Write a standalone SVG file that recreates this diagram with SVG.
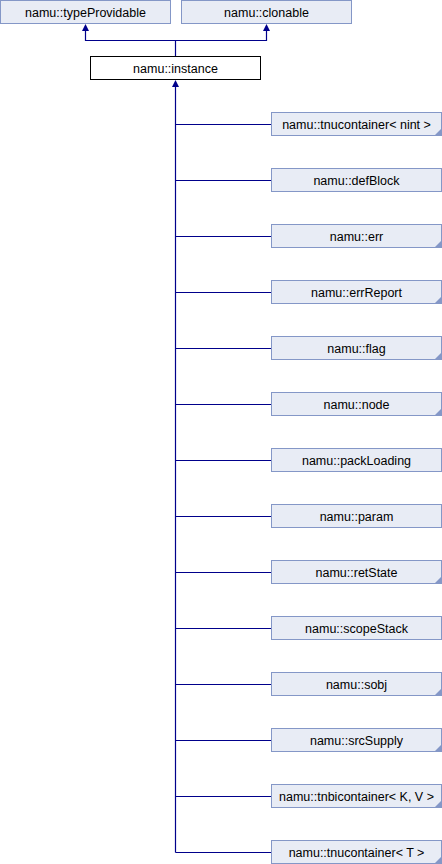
<svg xmlns="http://www.w3.org/2000/svg" width="442" height="864" viewBox="0 0 442 864">
<style>
.b{fill:#E8ECF5;stroke:#8497C7;stroke-width:1}
.w{fill:#FFFFFF;stroke:#000000;stroke-width:1}
.t{font-family:"Liberation Sans",Arial,sans-serif;font-size:12.5px;fill:#000000;text-anchor:middle}
.c{fill:none;stroke:#00008B;stroke-width:1.2}
.a{fill:#00008B}
.k{fill:#8497C7}
</style>
<defs>
<polygon id="tri" class="k" points="0,0 0,-6 -6,0"/>
</defs>
<rect width="442" height="864" fill="#FFFFFF"/>
<g id="connectors">
<path class="c" d="M85.5,26 V40.5 H266.5 V26 M175.5,40.5 V56"/>
<polygon class="a" points="85.5,24 82,31 89,31"/>
<polygon class="a" points="266.5,24 263,31 270,31"/>
<path class="c" d="M175.5,82 V852.5"/>
<polygon class="a" points="175.5,80 172,87 179,87"/>
<path class="c" d="M175.5,124.5 H271 M175.5,180.5 H271 M175.5,236.5 H271 M175.5,292.5 H271 M175.5,348.5 H271 M175.5,404.5 H271 M175.5,460.5 H271 M175.5,516.5 H271 M175.5,572.5 H271 M175.5,628.5 H271 M175.5,684.5 H271 M175.5,740.5 H271 M175.5,796.5 H271 M175.5,852.5 H271"/>
</g>
<g id="typeProvidable"><rect class="b" x="0.5" y="0.5" width="170" height="23"/><text class="t" x="85.5" y="16.5">namu::typeProvidable</text></g>
<g id="clonable"><rect class="b" x="181.5" y="0.5" width="170" height="23"/><text class="t" x="266.5" y="16.5">namu::clonable</text></g>
<g id="instance"><rect class="w" x="90.5" y="56.5" width="170" height="23"/><text class="t" x="175.5" y="72.5">namu::instance</text></g>
<g id="tnucontainer_nint"><rect class="b" x="271.5" y="112.5" width="170" height="23"/><use href="#tri" x="441" y="135"/><text class="t" x="356.5" y="128.5">namu::tnucontainer&lt; nint &gt;</text></g>
<g id="defBlock"><rect class="b" x="271.5" y="168.5" width="170" height="23"/><text class="t" x="356.5" y="184.5">namu::defBlock</text></g>
<g id="err"><rect class="b" x="271.5" y="224.5" width="170" height="23"/><use href="#tri" x="441" y="247"/><text class="t" x="356.5" y="240.5">namu::err</text></g>
<g id="errReport"><rect class="b" x="271.5" y="280.5" width="170" height="23"/><use href="#tri" x="441" y="303"/><text class="t" x="356.5" y="296.5">namu::errReport</text></g>
<g id="flag"><rect class="b" x="271.5" y="336.5" width="170" height="23"/><use href="#tri" x="441" y="359"/><text class="t" x="356.5" y="352.5">namu::flag</text></g>
<g id="node"><rect class="b" x="271.5" y="392.5" width="170" height="23"/><use href="#tri" x="441" y="415"/><text class="t" x="356.5" y="408.5">namu::node</text></g>
<g id="packLoading"><rect class="b" x="271.5" y="448.5" width="170" height="23"/><text class="t" x="356.5" y="464.5">namu::packLoading</text></g>
<g id="param"><rect class="b" x="271.5" y="504.5" width="170" height="23"/><text class="t" x="356.5" y="520.5">namu::param</text></g>
<g id="retState"><rect class="b" x="271.5" y="560.5" width="170" height="23"/><use href="#tri" x="441" y="583"/><text class="t" x="356.5" y="576.5">namu::retState</text></g>
<g id="scopeStack"><rect class="b" x="271.5" y="616.5" width="170" height="23"/><text class="t" x="356.5" y="632.5">namu::scopeStack</text></g>
<g id="sobj"><rect class="b" x="271.5" y="672.5" width="170" height="23"/><use href="#tri" x="441" y="695"/><text class="t" x="356.5" y="688.5">namu::sobj</text></g>
<g id="srcSupply"><rect class="b" x="271.5" y="728.5" width="170" height="23"/><use href="#tri" x="441" y="751"/><text class="t" x="356.5" y="744.5">namu::srcSupply</text></g>
<g id="tnbicontainer"><rect class="b" x="271.5" y="784.5" width="170" height="23"/><use href="#tri" x="441" y="807"/><text class="t" x="356.5" y="800.5">namu::tnbicontainer&lt; K, V &gt;</text></g>
<g id="tnucontainer_T"><rect class="b" x="271.5" y="840.5" width="170" height="23"/><use href="#tri" x="441" y="863"/><text class="t" x="356.5" y="856.5">namu::tnucontainer&lt; T &gt;</text></g>
</svg>
